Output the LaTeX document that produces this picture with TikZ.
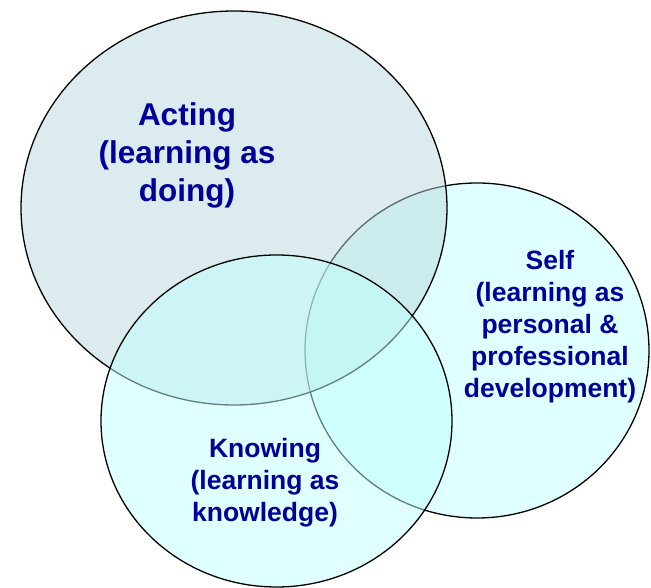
\documentclass[tikz,border=0pt]{standalone}
\usepackage{fontspec}
\setmainfont{Liberation Sans}
\definecolor{selffill}{RGB}{224,255,255}
\definecolor{actfill}{RGB}{185,217,221}
\definecolor{knowfill}{RGB}{193,255,255}
\definecolor{labelblue}{RGB}{0,0,153}
\tikzset{
  ring/.style={draw=black, line width=1.3pt},
  biglabel/.style={text=labelblue, font=\bfseries\fontsize{31.5}{37.8}\selectfont, align=center, inner sep=0pt, anchor=base},
  smalllabel/.style={text=labelblue, font=\bfseries\fontsize{26.5}{31.8}\selectfont, align=center, inner sep=0pt, anchor=base}
}
\begin{document}
\begin{tikzpicture}[x=1pt,y=1pt]
\useasboundingbox (0,0) rectangle (651,588);
% Self (bottom layer)
\draw[ring, fill=selffill] (477,237.5) ellipse [x radius=172, y radius=167.5];
% Acting
\draw[ring, fill=actfill, fill opacity=0.5] (234,380) ellipse [x radius=213, y radius=197];
% Knowing
\draw[ring, fill=knowfill, fill opacity=0.5] (276.5,167) ellipse [x radius=175.5, y radius=166];
% labels (base anchor = baseline of last line)
\node[biglabel] (acting) at (187,386.8) {Acting\\(learning as\\doing)};
\node[smalllabel] (self) at (550,190.8) {Self\\(learning as\\personal \&\\professional\\development)};
\node[smalllabel] (knowing) at (265,66.9) {Knowing\\(learning as\\knowledge)};
\end{tikzpicture}
\end{document}
